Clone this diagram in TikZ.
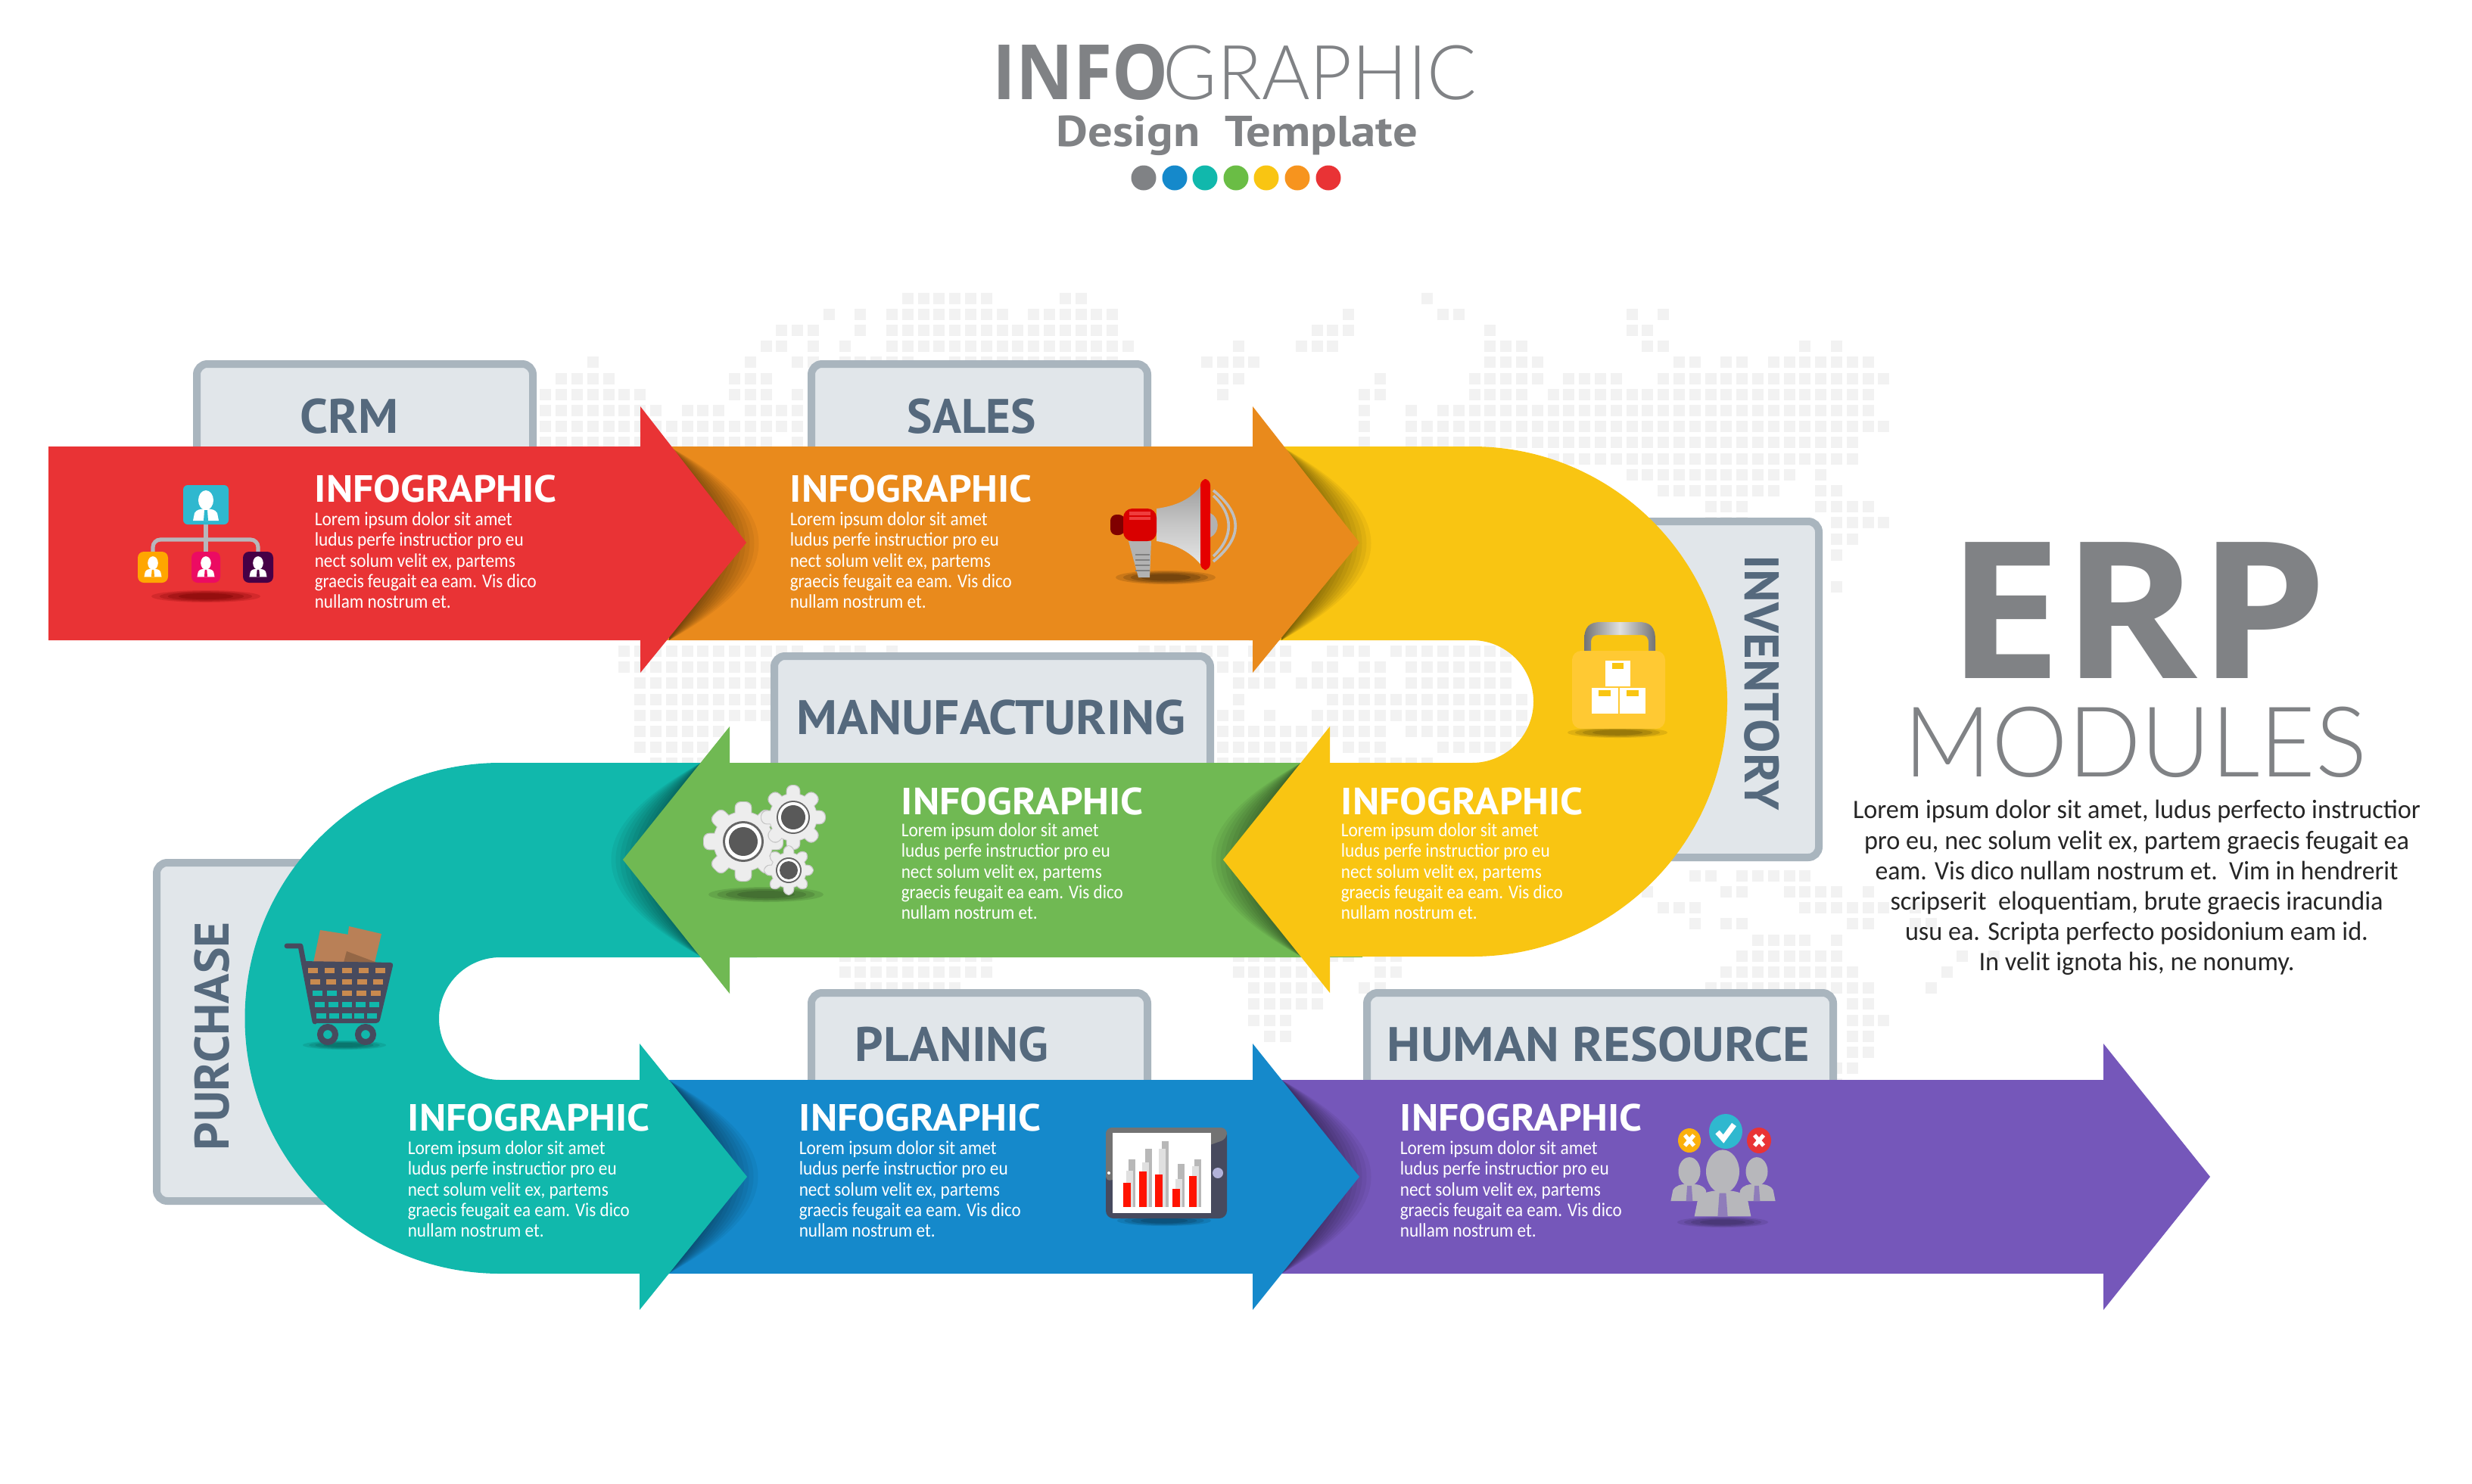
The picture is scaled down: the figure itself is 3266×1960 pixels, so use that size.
\documentclass[tikz,border=0pt]{standalone}
\usepackage{fontspec}
\usepackage{graphicx}
\setmainfont{Carlito}
\newfontfamily\ptf{PT Sans}
\newfontfamily\osf{Open Sans}
\newfontfamily\thinf{Lato Light}
\newdimen\pxu \pxu=0.25pt
\newcommand\fsz[1]{\fontsize{#1pt}{#1pt}\selectfont}
\newcommand\fitw[2]{\resizebox{#1\pxu}{\height}{#2}}
\definecolor{redband}{HTML}{E93335}
\definecolor{orangeband}{HTML}{E98A1C}
\definecolor{yellowband}{HTML}{F9C512}
\definecolor{greenband}{HTML}{70B953}
\definecolor{tealband}{HTML}{11B8AC}
\definecolor{blueband}{HTML}{1589CB}
\definecolor{purpleband}{HTML}{7557BA}
\definecolor{titlegray}{HTML}{808285}
\definecolor{tabfill}{HTML}{E1E6EA}
\definecolor{tabedge}{HTML}{A9B5BE}
\definecolor{tabtext}{HTML}{55697D}
\definecolor{mapcell}{HTML}{F2F2F2}
\definecolor{cartdark}{HTML}{474A5E}
\definecolor{cartbrown}{HTML}{C98A4F}
\definecolor{boxbrown}{HTML}{B98057}
\definecolor{iconblue}{HTML}{2FB8CF}
\definecolor{icongray}{HTML}{B7B7BB}
\definecolor{dotgreen}{HTML}{6ABD45}
\definecolor{dotorange}{HTML}{F7941E}
\definecolor{lockbody}{HTML}{FFC933}
\tikzset{
  tabbox/.style={fill=tabfill,draw=tabedge,line width=2.5pt,rounded corners=3.5pt},
  heading/.style={inner sep=0pt,anchor=base west,text=white,font=\ptf\bfseries\fsz{12.5}},
  bodyline/.style={inner sep=0pt,anchor=base west,text=white,font=\fsz{6.4}},
  tablabel/.style={inner sep=0pt,anchor=base west,text=tabtext,font=\ptf\bfseries\fsz{16}},
  paraline/.style={inner sep=0pt,anchor=base,text=black!85,font=\fsz{8.8}}
}
\newcommand\cells[2]{\foreach \a/\b in {#2}{\foreach \k in {\a,...,\b}{%
  \fill[mapcell] ({700+20.8*\k-7.5},{394+21.2*#1-7.5}) rectangle +(15,15);}}}
% soft shadow of an arrow head: band-edge x, centre y, direction
\newcommand\hshadow[3]{\foreach \L in {70,78,...,162}{%
  \fill[black,fill opacity=.05] (#1,{#2-128}) .. controls ({#1+#3*\L},{#2-40}) and ({#1+#3*\L},{#2+40}) .. (#1,{#2+128}) -- cycle;}}
\newcommand\softell[5]{\foreach \f/\o in {1/.18,.85/.22,.7/.28,.5/.35}{%
  \fill[#5,fill opacity=\o] (#1,#2) ellipse [x radius={#3*\f},y radius={#4*\f}];}}
% id, x, heading baseline, extra drop of the body text
\newcommand\infoblk[4]{%
  \node[heading] (#1-h) at (#2,#3) {\fitw{320}{INFOGRAPHIC}};
  \node[bodyline] (#1-a) at (#2,{#3+#4+29}) {\fitw{261}{Lorem ipsum dolor sit amet}};
  \node[bodyline] (#1-b) at (#2,{#3+#4+56}) {\fitw{276}{ludus perfe instructior pro eu}};
  \node[bodyline] (#1-c) at (#2,{#3+#4+84}) {\fitw{265}{nect solum velit ex, partems}};
  \node[bodyline] (#1-d) at (#2,{#3+#4+111}) {\fitw{293}{graecis feugait ea eam. Vis dico}};
  \node[bodyline] (#1-e) at (#2,{#3+#4+138}) {\fitw{180}{nullam nostrum et.}};}
\newcommand\persona[5]{%
  \fill[#4] (#1,#2) ellipse [x radius={10*#3},y radius={13*#3}];
  \fill[#4] ({#1-17*#3},{#2+27*#3}) -- ({#1-15*#3},{#2+17*#3}) .. controls ({#1-12*#3},{#2+12*#3}) and ({#1-8*#3},{#2+12*#3}) .. (#1,{#2+11*#3}) .. controls ({#1+8*#3},{#2+12*#3}) and ({#1+12*#3},{#2+12*#3}) .. ({#1+15*#3},{#2+17*#3}) -- ({#1+17*#3},{#2+27*#3}) -- cycle;
  \fill[#5] ({#1-2*#3},{#2+13*#3}) -- ({#1+2*#3},{#2+13*#3}) -- ({#1+3*#3},{#2+27*#3}) -- ({#1-3*#3},{#2+27*#3}) -- cycle;}
\newcommand\gearico[7]{%
  \foreach \a in {0,45,...,315}{%
    \fill[black!22,rounded corners=2pt,rotate around={\a:(#1,#2)}] ({#1-0.2*#3-1},{#2-#3-1}) rectangle ({#1+0.2*#3+1},#2);}
  \fill[black!22] (#1,#2) circle [radius={#4+1}];
  \foreach \a in {0,45,...,315}{%
    \fill[black!7,rounded corners=2pt,rotate around={\a:(#1,#2)}] ({#1-0.2*#3},{#2-#3}) rectangle ({#1+0.2*#3},#2);}
  \fill[black!7] (#1,#2) circle [radius=#4];
  \fill[black!60] (#1,#2) circle [radius=#7];
  \fill[white] (#1,#2) circle [radius=#6];
  \fill[black!65] (#1,#2) circle [radius=#5];}
\newcommand\cartcell[3]{\fill[#3] ({458+(#2-2)*(22.2-#1*1.4)-6.5},{1282+15*#1-3.5}) rectangle +(13,7);}
\begin{document}
\begin{tikzpicture}[x=0.25pt,y=-0.25pt]
\useasboundingbox (0,0) rectangle (3266,1960);
\fill[white] (0,0) rectangle (3266,1960);
% ---------- dotted world map
\cells{0}{24/29,34/35,57/57}
\cells{1}{19/19,21/21,23/30,32/37,52/52,58/59,70/70,72/72}
\cells{2}{16/18,21/21,23/37,50/52,61/61,70/71}
\cells{3}{15/16,18/18,20/20,23/38,45/45,49/51,61/63,71/72,81/81,83/83}
\cells{4}{4/4,14/14,17/18,20/24,27/37,43/46,61/64,73/74,76/77,79/85}
\cells{5}{2/5,13/15,44/45,54/54,60/64,66/69,72/86}
\cells{6}{1/7,13/15,17/17,44/44,53/54,60/63,65/85}
\cells{7}{1/8,10/12,14/17,53/53,56/56,58/85}
\cells{8}{1/17,53/53,56/86}
\cells{9}{1/15,17/17,53/53,56/84}
\cells{10}{65/84}
\cells{11}{70/80,82/82}
\cells{12}{72/79,82/83}
\cells{13}{75/77,82/85}
\cells{14}{75/77,83/86}
\cells{15}{83/84}
\cells{16}{83/83}
\cells{18}{83/83}
\cells{22}{6/17,19/21,23/23,39/44,46/48,51/53,55/62}
\cells{23}{6/15,44/48,50/51,53/54,56/62}
\cells{24}{7/15,45/47,49/54,56/62}
\cells{25}{7/15,45/45,51/63}
\cells{26}{7/15,44/45,47/47,50/63}
\cells{27}{7/12,44/54,56/63}
\cells{28}{7/11,44/49,52/54,58/62}
\cells{29}{8/11,44/49,53/57}
\cells{36}{74/75,77/81}
\cells{37}{71/71,76/77,80/83,85/85}
\cells{38}{72/74,81/86,88/88}
\cells{39}{74/74,76/77,84/85,88/89}
\cells{40}{78/81,83/83}
\cells{41}{20/29,45/52,54/55,77/83,91/91,93/93}
\cells{42}{20/29,45/50,54/55,76/84,90/90}
\cells{43}{21/27,46/50,53/54,75/85,89/89}
\cells{44}{46/50,84/85}
\cells{45}{46/48,84/86}
\cells{46}{47/48,84/85}
\cells{47}{84/85}
\cells{48}{83/84}
\cells{49}{83/83}
% ---------- title
\node[inner sep=0pt,anchor=base west,text=titlegray,font=\osf\bfseries\fsz{25.2}] (titleinfo) at (1311,131) {\fitw{232}{INFO}};
\node[inner sep=0pt,anchor=base west,text=titlegray,font=\thinf\fsz{25}] (titlegraphic) at (1536,131) {\fitw{414}{GRAPHIC}};
\node[inner sep=0pt,anchor=base west,text=titlegray,font=\ptf\bfseries\fsz{14.3}] (titledesign) at (1395,193) {\fitw{477}{Design\ \ Template}};
\foreach \x/\cc in {1511/titlegray,1552/blueband,1592/tealband,1633/dotgreen,1673/yellowband,1714/dotorange,1755/redband}{%
  \fill[\cc] (\x,235) ellipse [x radius=16.5,y radius=16.5];}
% ---------- right text
\node[inner sep=0pt,anchor=base west,text=titlegray,font=\osf\bfseries\fsz{63}] (erp) at (2572,896) {\fitw{502}{ERP}};
\node[inner sep=0pt,anchor=base west,text=titlegray,font=\thinf\fsz{32.3}] (modules) at (2515,1026) {\fitw{612}{MODULES}};
\node[paraline] (pa) at (2823,1081) {\fitw{750}{Lorem ipsum dolor sit amet, ludus perfecto instructior}};
\node[paraline] (pb) at (2823,1122) {\fitw{720}{pro eu, nec solum velit ex, partem graecis feugait ea}};
\node[paraline] (pc) at (2823,1162) {\fitw{691}{eam. Vis dico nullam nostrum et.\ \ Vim in hendrerit}};
\node[paraline] (pd) at (2823,1202) {\fitw{651}{scripserit\ \ eloquentiam, brute graecis iracundia}};
\node[paraline] (pe) at (2823,1242) {\fitw{612}{usu ea. Scripta perfecto posidonium eam id.}};
\node[paraline] (pf) at (2823,1282) {\fitw{417}{In velit ignota his, ne nonumy.}};
% ---------- tabs
\draw[tabbox] (260,481) rectangle (704,640);
\draw[tabbox] (1072,481) rectangle (1516,640);
\draw[tabbox] (1023,867) rectangle (1599,1040);
\draw[tabbox] (2100,689) rectangle (2403,1133);
\draw[tabbox] (207,1140) rectangle (500,1587);
\draw[tabbox] (1072,1312) rectangle (1516,1470);
\draw[tabbox] (1806,1312) rectangle (2422,1470);
\node[tablabel] (crm) at (396,572) {\fitw{130}{CRM}};
\node[tablabel] (sales) at (1198,572) {\fitw{170}{SALES}};
\node[tablabel] (manuf) at (1052,970) {\fitw{514}{MANUFACTURING}};
\node[tablabel] (plan) at (1129,1402) {\fitw{256}{PLANING}};
\node[tablabel] (hr) at (1832,1402) {\fitw{558}{HUMAN RESOURCE}};
\node[tablabel,rotate=-90] (inv) at (2305,733) {\fitw{337}{INVENTORY}};
\node[tablabel,rotate=90] (purch) at (302,1521) {\fitw{302}{PURCHASE}};
% ---------- bands, from the back to the front
\fill[purpleband] (1670,1427) -- (2779,1427) -- (2779,1379) -- (2920,1555) -- (2779,1731) -- (2779,1683) -- (1670,1683) -- cycle;
\hshadow{1693}{1555}{1}
\fill[blueband] (860,1427) -- (1655,1427) -- (1655,1379) -- (1796,1555) -- (1655,1731) -- (1655,1683) -- (860,1683) -- cycle;
\hshadow{883}{1555}{1}
\fill[tealband] (1000,1008) -- (661,1008) arc [start angle=-90,end angle=-270,radius=337.5] -- (845,1683) -- (845,1731) -- (987,1555) -- (845,1379) -- (845,1427) -- (661,1427) arc [start angle=90,end angle=270,radius=81] -- (1000,1265) -- cycle;
\hshadow{926}{1136}{-1}
\fill[greenband] (1800,1008) -- (964,1008) -- (964,960) -- (823,1136) -- (964,1313) -- (964,1265) -- (1800,1265) -- cycle;
\hshadow{1719}{1136}{-1}
\fill[yellowband] (1650,590) -- (1945,590) arc [start angle=-90,end angle=90,radius=337] -- (1757,1264) -- (1757,1312) -- (1616,1136) -- (1757,960) -- (1757,1008) -- (1945,1008) arc [start angle=90,end angle=-90,radius=81] -- (1650,846) -- cycle;
\hshadow{1693}{718}{1}
\fill[orangeband] (860,590) -- (1655,590) -- (1655,537) -- (1796,717) -- (1655,889) -- (1655,846) -- (860,846) -- cycle;
\hshadow{884}{718}{1}
\fill[redband] (64,590) -- (846,590) -- (846,537) -- (986,717) -- (846,889) -- (846,846) -- (64,846) -- cycle;
% ---------- text blocks
\infoblk{ired}{415}{663}{2}
\infoblk{iorange}{1043}{663}{2}
\infoblk{iyellow}{1771}{1076}{0}
\infoblk{igreen}{1190}{1076}{0}
\infoblk{iteal}{538}{1494}{2}
\infoblk{iblue}{1055}{1494}{2}
\infoblk{ipurple}{1849}{1494}{2}
% ---------- org chart icon
\softell{272}{788}{72}{8}{red!45!black}
\draw[icongray,line width=1.3pt,rounded corners=2.5pt] (202,730) -- (202,713) -- (341,713) -- (341,730);
\draw[icongray,line width=1.3pt] (272,693) -- (272,730);
\fill[iconblue,rounded corners=1.5pt] (242,641) rectangle (302,693);
\fill[orange!70!yellow,rounded corners=2pt] (182,729) rectangle (222,770);
\fill[magenta!60!red,rounded corners=2pt] (253,729) rectangle (291,770);
\fill[violet!55!black,rounded corners=2pt] (321,729) rectangle (361,770);
\persona{272}{661}{1}{white}{iconblue}
\persona{202}{744}{.68}{white}{orange!70!yellow}
\persona{272}{744}{.68}{white}{magenta!60!red}
\persona{341}{744}{.68}{white}{violet!55!black}
% ---------- megaphone icon
\softell{1540}{763}{66}{9}{black!70!orangeband}
\draw[black!25,line width=.9pt] (1603,655) .. controls (1630,680) and (1630,710) .. (1603,735);
\draw[black!25,line width=.9pt] (1603,648) .. controls (1642,680) and (1642,710) .. (1603,742);
\fill[black!30] (1599,678) .. controls (1612,684) and (1612,704) .. (1599,710) -- cycle;
\fill[black!30] (1491,715) -- (1521,715) -- (1519,763) -- (1504,763) -- cycle;
\foreach \y in {733,740,747,754}{\draw[black!50,line width=.4pt] (1500,\y) -- (1519,\y);}
\shade[top color=black!38,bottom color=black!10,middle color=black!22] (1528,672) .. controls (1560,668) and (1578,655) .. (1588,640) -- (1588,748) .. controls (1578,735) and (1560,720) .. (1528,715) -- cycle;
\fill[red!50!black,rounded corners=2pt] (1467,680) rectangle (1486,707);
\fill[red!85!black,rounded corners=3pt] (1484,672) rectangle (1528,715);
\fill[red!60!white,opacity=.6] (1492,676) rectangle (1520,681);
\fill[red!60!white,opacity=.6] (1492,683) rectangle (1520,687);
\fill[red!90!black,rounded corners=2pt] (1586,633) rectangle (1599,753);
% ---------- padlock icon
\softell{2137}{968}{66}{7}{yellowband!45!black}
\shade[left color=black!55,right color=black!55,middle color=black!12] (2093,862) -- (2093,846) .. controls (2093,828) and (2100,822) .. (2115,822) -- (2165,822) .. controls (2180,822) and (2187,828) .. (2187,846) -- (2187,862) -- (2178,862) -- (2178,850) .. controls (2178,842) and (2175,839) .. (2168,839) -- (2112,839) .. controls (2105,839) and (2102,842) .. (2102,850) -- (2102,862) -- cycle;
\fill[lockbody,rounded corners=3pt] (2077,860) rectangle (2200,963);
\fill[white] (2121,873) rectangle (2154,907);
\fill[white] (2103,909) rectangle (2138,943);
\fill[white] (2140,909) rectangle (2174,943);
\fill[yellowband] (2130,876) rectangle (2145,884);
\fill[yellowband] (2112,912) rectangle (2128,920);
\fill[yellowband] (2149,912) rectangle (2165,920);
% ---------- gears icon
\softell{1012}{1182}{76}{10}{greenband!45!black}
\gearico{982}{1112}{52}{39}{19}{24}{27}
\gearico{1048}{1080}{42}{31}{16}{20}{22}
\gearico{1042}{1150}{32}{23}{12}{15}{17}
% ---------- cart icon
\softell{455}{1381}{55}{6}{tealband!50!black}
\fill[boxbrown] (423,1229) -- (461,1235) -- (455,1272) -- (414,1272) -- cycle;
\fill[boxbrown] (461,1224) -- (504,1234) -- (495,1272) -- (455,1272) -- cycle;
\fill[boxbrown!80!black] (458,1257) -- (498,1272) -- (454,1272) -- cycle;
\draw[cartdark,line width=1.7pt,line cap=round,line join=round] (379,1250) -- (397,1250) -- (416,1350);
\fill[cartdark,rounded corners=1pt] (398,1270) -- (520,1272) -- (501,1352) -- (415,1352) -- cycle;
\foreach \r in {0,1}{\foreach \i in {0,...,4}{\cartcell{\r}{\i}{cartbrown}}}
\foreach \i/\cc in {0/tealband,1/tealband,2/cartbrown,3/cartbrown,4/cartbrown}{\cartcell{2}{\i}{\cc}}
\foreach \r in {3,4}{\foreach \i in {0,...,4}{\cartcell{\r}{\i}{tealband}}}
\foreach \x in {433,483}{%
  \draw[cartdark,line width=2pt] (\x,1367) circle [radius=10];}
% ---------- tablet icon
\softell{1538}{1613}{62}{7}{blueband!45!black}
\fill[cartdark,rounded corners=2.5pt] (1461,1490) rectangle (1621,1610);
\fill[black!55,rounded corners=2pt] (1461,1490) -- (1621,1490) -- (1621,1505) -- (1461,1562) -- cycle;
\fill[white] (1470,1497) rectangle (1600,1603);
\foreach \x/\t in {1491/1532,1513/1518,1535/1508,1556/1538,1578/1532}{\fill[black!28] (\x,\t) rectangle ({\x+9},1595);}
\foreach \x/\t in {1488/1547,1509/1536,1531/1518,1553/1558,1575/1541}{\fill[black!12] (\x,\t) rectangle ({\x+9},1595);}
\foreach \x/\t in {1484/1563,1505/1548,1526/1552,1549/1571,1571/1554}{\fill[red!85!orange] (\x,\t) rectangle ({\x+10},1595);}
\fill[white] (1465,1550) circle [radius=2];
\fill[black!50!blue!30!white] (1609,1550) circle [radius=7];
% ---------- people icon
\softell{2276}{1615}{60}{7}{purpleband!50!black}
\fill[yellowband!70!orange] (2232,1507) ellipse [x radius=15,y radius=16];
\fill[iconblue] (2280,1495) ellipse [x radius=22,y radius=23];
\fill[redband] (2324,1507) ellipse [x radius=16,y radius=17];
\draw[white,line width=1.3pt] (2226,1500) -- (2238,1514) (2238,1500) -- (2226,1514);
\draw[white,line width=1.3pt] (2318,1500) -- (2330,1514) (2330,1500) -- (2318,1514);
\draw[white,line width=1.8pt] (2269,1496) -- (2277,1505) -- (2291,1486);
\persona{2232}{1548}{1.45}{icongray}{purpleband!60!icongray}
\persona{2321}{1548}{1.45}{icongray}{purpleband!60!icongray}
\fill[purpleband] (2276,1548) ellipse [x radius=24,y radius=24];
\persona{2276}{1548}{2.2}{icongray}{purpleband!60!icongray}
\end{tikzpicture}
\end{document}
